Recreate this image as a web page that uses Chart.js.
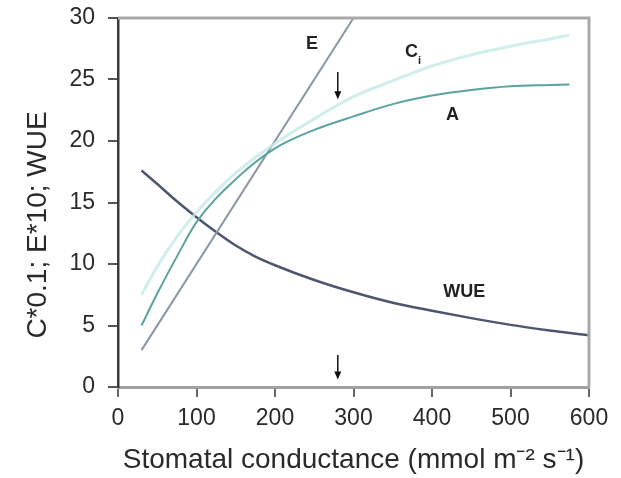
<!DOCTYPE html>
<html>
<head>
<meta charset="utf-8">
<script src="https://cdn.jsdelivr.net/npm/chart.js@4"></script>
<style>
  html, body { margin: 0; padding: 0; background: #fff; }
  #wrap { width: 621px; height: 478px; }
</style>
</head>
<body>
<div id="wrap"><canvas id="gsChart"></canvas></div>
<script>
// stomatal conductance (mmol m-2 s-1) and curves
const gsCurve = [30, 50, 75, 100, 150, 200, 250, 300, 350, 400, 450, 500, 550, 575];
const aVals   = [5.0, 7.6, 10.6, 13.4, 16.9, 19.4, 20.9, 22.0, 23.0, 23.7, 24.15, 24.45, 24.55, 24.6];
const ciVals  = [7.5, 9.8, 12.2, 14.2, 17.4, 19.8, 21.8, 23.6, 24.9, 26.1, 27.0, 27.7, 28.3, 28.6];
const gsWue   = [30, 50, 75, 100, 125, 150, 175, 200, 250, 300, 350, 400, 450, 500, 550, 600];
const wueVals = [17.6, 16.5, 15.1, 13.8, 12.6, 11.5, 10.6, 9.9, 8.7, 7.7, 6.85, 6.2, 5.6, 5.05, 4.6, 4.2];
const gsE     = [30, 300];
const eVals   = [3, 30];
const xTicks  = [0, 100, 200, 300, 400, 500, 600];
const yTicks  = [0, 5, 10, 15, 20, 25, 30];
const optimumGs = 280;

const pts = (xs, ys) => xs.map((x, i) => ({ x: x, y: ys[i] }));
const FONT = "'Liberation Sans', Arial, sans-serif";

// frame, curve labels, arrows and rotated y title
const extras = {
  id: 'extras',
  afterDraw(chart) {
    const { ctx, chartArea: a, scales: { x, y } } = chart;
    ctx.save();
    // top and right frame lines
    ctx.strokeStyle = '#a9a9a9';
    ctx.lineWidth = 3;
    ctx.beginPath();
    ctx.moveTo(a.left, a.top);
    ctx.lineTo(a.right, a.top);
    ctx.lineTo(a.right, a.bottom);
    ctx.stroke();

    // curve labels
    ctx.fillStyle = '#222';
    ctx.textAlign = 'center';
    ctx.textBaseline = 'middle';
    ctx.font = 'bold 18px ' + FONT;
    ctx.fillText('E', x.getPixelForValue(247), y.getPixelForValue(27.9));
    ctx.fillText('C', x.getPixelForValue(374), y.getPixelForValue(27.2));
    ctx.fillText('A', x.getPixelForValue(426), y.getPixelForValue(22.1));
    ctx.fillText('WUE', x.getPixelForValue(441), y.getPixelForValue(7.7));
    ctx.font = 'bold 11px ' + FONT;
    ctx.fillText('i', x.getPixelForValue(384), y.getPixelForValue(26.5));

    // arrows at the optimum conductance
    const ax = x.getPixelForValue(optimumGs);
    const arrow = (v0, v1) => {
      const y0 = y.getPixelForValue(v0), y1 = y.getPixelForValue(v1);
      ctx.strokeStyle = '#111';
      ctx.fillStyle = '#111';
      ctx.lineWidth = 1.5;
      ctx.beginPath();
      ctx.moveTo(ax, y0);
      ctx.lineTo(ax, y1 - 6);
      ctx.stroke();
      ctx.beginPath();
      ctx.moveTo(ax - 3.5, y1 - 8);
      ctx.lineTo(ax + 3.5, y1 - 8);
      ctx.lineTo(ax, y1);
      ctx.closePath();
      ctx.fill();
    };
    arrow(25.6, 23.4);
    arrow(2.6, 0.6);

    // y axis title
    ctx.translate(38, 225);
    ctx.rotate(-Math.PI / 2);
    ctx.fillStyle = '#2a2a2a';
    ctx.font = '28px ' + FONT;
    ctx.fillText('C*0.1; E*10; WUE', 0, 0);
    ctx.restore();
  }
};

new Chart(document.getElementById('gsChart'), {
  type: 'line',
  data: {
    datasets: [
      { label: 'Ci', data: pts(gsCurve, ciVals), borderColor: 'rgba(196,234,230,0.8)', borderWidth: 3 },
      { label: 'A', data: pts(gsCurve, aVals), borderColor: '#5aa39f', borderWidth: 2 },
      { label: 'E', data: pts(gsE, eVals), borderColor: '#8a96a8', borderWidth: 2 },
      { label: 'WUE', data: pts(gsWue, wueVals), borderColor: '#4d5570', borderWidth: 2.5 }
    ]
  },
  options: {
    responsive: true,
    maintainAspectRatio: false,
    animation: false,
    cubicInterpolationMode: 'monotone',
    elements: { point: { radius: 0 } },
    layout: { padding: { top: 18, right: 32, left: 0, bottom: 0 } },
    plugins: { legend: { display: false }, tooltip: { enabled: false } },
    scales: {
      x: {
        type: 'linear',
        min: 0, max: 600,
        afterFit: s => { s.height = 91; },
        afterBuildTicks: s => { s.ticks = xTicks.map(v => ({ value: v })); },
        grid: { drawOnChartArea: false, tickLength: 10, color: '#666', lineWidth: 2 },
        border: { color: '#a0a0a0', width: 3 },
        ticks: { padding: 8, color: '#2a2a2a', font: { family: FONT, size: 23 } },
        title: {
          display: true,
          text: 'Stomatal conductance (mmol m\u207B\u00B2 s\u207B\u00B9)',
          color: '#2a2a2a',
          font: { family: FONT, size: 28 },
          padding: { top: 0, bottom: 1 }
        }
      },
      y: {
        min: 0, max: 30,
        afterFit: s => { s.width = 118; s.paddingTop = 0; s.paddingBottom = 0; },
        afterBuildTicks: s => { s.ticks = yTicks.map(v => ({ value: v })); },
        grid: { drawOnChartArea: false, tickLength: 10, color: '#555', lineWidth: 2 },
        border: { color: '#3a3a3a', width: 2.5 },
        ticks: { padding: 13, color: '#2a2a2a', font: { family: FONT, size: 23 } }
      }
    }
  },
  plugins: [extras]
});
</script>
</body>
</html>
